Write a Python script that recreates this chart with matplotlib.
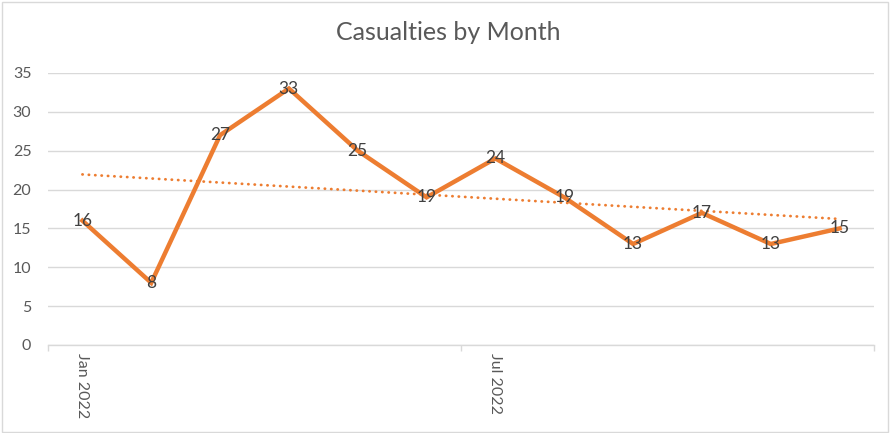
import matplotlib
matplotlib.use("Agg")
import matplotlib.pyplot as plt
import numpy as np
from matplotlib.patches import Rectangle

months = ["Jan 2022", "Feb 2022", "Mar 2022", "Apr 2022", "May 2022", "Jun 2022",
          "Jul 2022", "Aug 2022", "Sep 2022", "Oct 2022", "Nov 2022", "Dec 2022"]
casualties = [16, 8, 27, 33, 25, 19, 24, 19, 13, 17, 13, 15]
tick_labels = ["Jan 2022", "Jul 2022"]
yticks = [0, 5, 10, 15, 20, 25, 30, 35]

orange = "#ED7D31"
grid_c = "#D9D9D9"
txt_c = "#595959"
lab_c = "#404040"

plt.rcParams['font.family'] = ['Lato', 'DejaVu Sans']

fig = plt.figure(figsize=(8.96, 4.33), dpi=100)
W, H = 896, 433
ax = fig.add_axes([48 / W, 1 - 345 / H, (874 - 48) / W, (345 - 73) / H])

x = np.arange(len(casualties))
ax.plot(x, casualties, color=orange, lw=3.2, solid_joinstyle='miter', zorder=3)

# linear trendline
coef = np.polyfit(x, casualties, 1)
ax.plot(x, np.polyval(coef, x), color=orange, lw=2.0, ls=(0, (0.1, 2.2)),
        dash_capstyle='round', zorder=2)

for xi, v in zip(x, casualties):
    ax.text(xi, v, str(v), ha='center', va='center', fontsize=12.5, color=lab_c, zorder=4)

ax.set_xlim(-0.5, len(casualties) - 0.5)
ax.set_ylim(0, 35)
ax.set_yticks(yticks)
ax.yaxis.grid(True, color=grid_c, lw=1.0)
ax.set_axisbelow(True)
ax.tick_params(axis='y', length=0, labelsize=11.5, labelcolor=txt_c, pad=12)

# major ticks at month-group boundaries, labels at month centers
ax.set_xticks([-0.5, 5.5, 11.5])
ax.set_xticklabels([])
ax.tick_params(axis='x', which='major', length=4, color=grid_c, width=1)
label_pos = [months.index(t) for t in tick_labels]
ax.set_xticks(label_pos, minor=True)
ax.set_xticklabels(tick_labels, minor=True, rotation=-90, fontsize=11.5, color=txt_c)
ax.tick_params(axis='x', which='minor', length=0, pad=6)

for s in ['top', 'right', 'left']:
    ax.spines[s].set_visible(False)
ax.spines['bottom'].set_color(grid_c)
ax.spines['bottom'].set_linewidth(1.0)

fig.text(448 / W, 1 - 33 / H, "Casualties by Month", ha='center', va='center',
         fontsize=18, color=txt_c)

fig.patches.append(Rectangle((2 / W, 1 / H), 886 / W, 430 / H, transform=fig.transFigure,
                             fill=False, edgecolor=grid_c, lw=1.0))

fig.savefig("out.png", dpi=100)
